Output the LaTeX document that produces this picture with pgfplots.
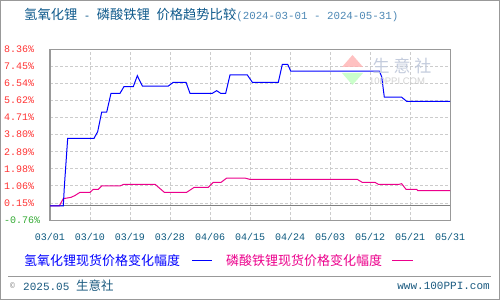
\documentclass[border=0pt]{standalone}
\usepackage{pgfplots}
\pgfplotsset{compat=1.18}
\usepackage{fontspec}
\setmainfont{Liberation Sans}
\newfontfamily\cjk{Noto Sans CJK SC}
\newfontfamily\mono{Liberation Mono}
\definecolor{ttl}{HTML}{0F5A8C}
\definecolor{ttltwo}{HTML}{4D88B5}
\definecolor{tick}{HTML}{0D5A80}
\definecolor{yred}{HTML}{FF3333}
\definecolor{ygreen}{HTML}{33AA33}
\definecolor{foot}{HTML}{1A5A80}
\definecolor{frame}{HTML}{999999}
\definecolor{gridc}{HTML}{CCCCCC}
\definecolor{wmtext}{HTML}{C4CCDD}
\begin{document}
\begin{tikzpicture}[x=1pt,y=1pt]
\useasboundingbox (0,0) rectangle (500,300);
\fill[white] (0,0) rectangle (500,300);
\draw[frame, line width=1pt] (0.5,0.5) rectangle (499.5,299.5);
% title
\node[anchor=west, inner sep=0, text=ttl] at (24,284.5) {\cjk\fontsize{13.3}{14}\selectfont 氢氧化锂\mono\fontsize{10.8}{12}\selectfont{} - \cjk\fontsize{13.3}{14}\selectfont 磷酸铁锂\mono\fontsize{10.8}{12}\selectfont{} \cjk\fontsize{13.3}{14}\selectfont 价格趋势比较\color{ttltwo}\mono\fontsize{10.8}{12}\selectfont(2024-03-01 - 2024-05-31)};
\begin{axis}[
  at={(50pt,80pt)}, anchor=south west,
  scale only axis, width=400pt, height=170.67pt,
  xmin=0, xmax=100, ymin=-0.76, ymax=8.36,
  xtick={0,10,...,100},
  xticklabels={03/01,03/10,03/19,03/28,04/06,04/15,04/24,05/03,05/12,05/21,05/31},
  ytick={-0.76,0.152,1.064,1.976,2.888,3.8,4.712,5.624,6.536,7.448,8.36},
  yticklabels={\textcolor{ygreen}{-0.76\%},0.15\%,1.06\%,1.98\%,2.89\%,3.80\%,4.71\%,5.62\%,6.54\%,7.45\%,8.36\%},
  grid=major,
  major grid style={gridc, line width=0.8pt, dash pattern=on 3pt off 2pt},
  axis line style={frame, line width=1pt},
  major tick length=0pt,
  tick label style={font=\mono\fontsize{10}{12}\selectfont},
  xticklabel style={text=tick, anchor=center, yshift=-17pt},
  yticklabel style={text=yred, anchor=west, inner sep=0pt, xshift=-46pt},
  clip=false,
]
\addplot[gray, line width=1pt] coordinates {(0,0) (100,0)};
\addplot[magenta, line width=1pt] coordinates {
(0,0) (2.33,0) (3.33,0.38) (5.25,0.45) (6.25,0.55) (7.5,0.72) (10.0,0.72)
(10.83,0.88) (12.08,0.88) (12.92,1.06) (17.5,1.06) (18.5,1.15) (26.25,1.15)
(28.58,0.72) (34.17,0.72) (36.08,0.99) (39.58,0.99) (40.83,1.25) (42.75,1.25)
(44.17,1.48) (48.75,1.48) (50.0,1.41) (76.83,1.41) (78.08,1.25) (81.25,1.25)
(82.08,1.15) (87.33,1.15) (87.92,1.18) (89.0,0.88) (91.67,0.88) (91.92,0.81) (100,0.81)};
\addplot[blue, line width=1pt] coordinates {
(0,0) (3.33,0) (3.58,1.0) (4.42,3.60) (11.0,3.60) (11.92,3.96) (12.92,5.0)
(14.17,5.0) (15.25,6.01) (17.5,6.01) (18.5,6.37) (20.83,6.37) (21.83,6.95)
(23.08,6.40) (29.58,6.40) (30.83,6.60) (34.0,6.60) (35.0,6.01) (40.58,6.01)
(41.67,6.15) (42.67,6.01) (43.92,6.01) (45.0,6.99) (49.33,6.99) (50.58,6.60)
(57.08,6.60) (58.08,7.56) (59.42,7.56) (60.17,7.20) (82.33,7.20) (82.92,6.9)
(83.58,5.80) (87.92,5.80) (89.17,5.58) (100,5.58)};
\end{axis}
% watermark
\fill[red!30, opacity=0.8] (342,233) -- (363,233) -- (352.5,245) -- cycle;
\fill[green!25, opacity=0.8] (342,227) -- (363,227) -- (352.5,215) -- cycle;
\node[text=wmtext, inner sep=0] at (402,234) {\cjk\fontsize{17}{18}\selectfont 生\hspace{4pt}意\hspace{4pt}社};
\node[text=gray!35, inner sep=0] at (397,219) {\fontsize{9.5}{10}\selectfont 100PPI.COM};
% legend
\node[anchor=west, inner sep=0, text=blue] at (24,39.3) {\cjk\fontsize{13}{14}\selectfont 氢氧化锂现货价格变化幅度};
\draw[blue, line width=1pt] (192,39.3) -- (212,39.3);
\node[anchor=west, inner sep=0, text=magenta] at (226,39.3) {\cjk\fontsize{13}{14}\selectfont 磷酸铁锂现货价格变化幅度};
\draw[magenta, line width=1pt] (392,39.3) -- (413,39.3);
% footer
\draw[frame, line width=1pt] (8,24) -- (491,24);
\node[anchor=west, inner sep=0, text=gray] at (10,14.5) {\mono\fontsize{8}{9}\selectfont ©};
\node[anchor=west, inner sep=0, text=foot] at (23,14) {\mono\fontsize{11}{12}\selectfont 2025.05 \cjk\fontsize{12.5}{13}\selectfont 生意社};
\node[anchor=east, inner sep=0, text=foot] at (490,14) {\mono\fontsize{11}{12}\selectfont www.100PPI.com};
\end{tikzpicture}
\end{document}
